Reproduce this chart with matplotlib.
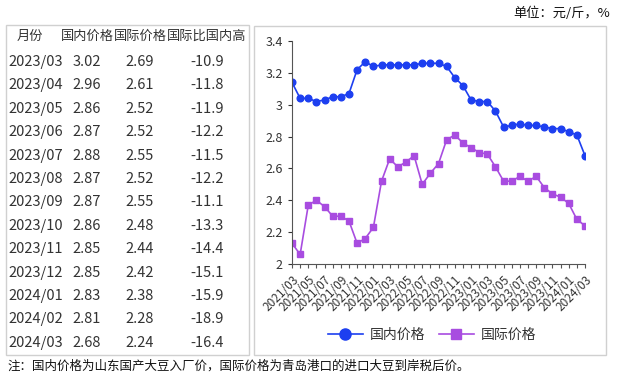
import matplotlib.pyplot as plt
from matplotlib.patches import Rectangle
from matplotlib.lines import Line2D

plt.rcParams['font.family'] = ['Noto Sans CJK SC', 'DejaVu Sans']

# chart data: 2021/03 .. 2024/03
months = ['%d/%02d' % (2021 + (m + 2) // 12, (m + 2) % 12 + 1) for m in range(37)]
domestic = [3.14, 3.04, 3.04, 3.02, 3.03, 3.05, 3.05, 3.07, 3.22, 3.27, 3.24, 3.25,
            3.25, 3.25, 3.25, 3.25, 3.26, 3.26, 3.26, 3.24, 3.17, 3.12, 3.03, 3.02,
            3.02, 2.96, 2.86, 2.87, 2.88, 2.87, 2.87, 2.86, 2.85, 2.85, 2.83, 2.81, 2.68]
intl = [2.13, 2.06, 2.37, 2.40, 2.36, 2.30, 2.30, 2.27, 2.13, 2.16, 2.23, 2.52,
        2.66, 2.61, 2.64, 2.68, 2.50, 2.57, 2.63, 2.78, 2.81, 2.76, 2.73, 2.70,
        2.69, 2.61, 2.52, 2.52, 2.55, 2.52, 2.55, 2.48, 2.44, 2.42, 2.38, 2.28, 2.24]

# table data
tbl_months = ['2023/03', '2023/04', '2023/05', '2023/06', '2023/07', '2023/08', '2023/09',
              '2023/10', '2023/11', '2023/12', '2024/01', '2024/02', '2024/03']
tbl_dom = ['3.02', '2.96', '2.86', '2.87', '2.88', '2.87', '2.87', '2.86', '2.85', '2.85', '2.83', '2.81', '2.68']
tbl_intl = ['2.69', '2.61', '2.52', '2.52', '2.55', '2.52', '2.55', '2.48', '2.44', '2.42', '2.38', '2.28', '2.24']
tbl_diff = ['-10.9', '-11.8', '-11.9', '-12.2', '-11.5', '-12.2', '-11.1', '-13.3', '-14.4', '-15.1', '-15.9', '-18.9', '-16.4']
headers = ['月份', '国内价格', '国际价格', '国际比国内高']

W, H = 617, 377
fig = plt.figure(figsize=(W / 100, H / 100), dpi=100)
fig.patch.set_facecolor('white')

def fx(x):
    return x / W

def fy(y):
    return 1 - y / H

# panel borders
fig.patches.append(Rectangle((fx(6), fy(355)), fx(243), 330 / H, transform=fig.transFigure,
                             fill=False, edgecolor='#d0d0d0', lw=1))
fig.patches.append(Rectangle((fx(254), fy(355)), fx(352), 329 / H, transform=fig.transFigure,
                             fill=False, edgecolor='#d0d0d0', lw=1))

# table text
tc = '#333333'
col_x = [8, 87, 140, 207]
fig.text(fx(30), fy(36), headers[0], ha='center', va='center', fontsize=9.5, color=tc)
for i in range(1, 4):
    fig.text(fx(col_x[i]), fy(36), headers[i], ha='center', va='center', fontsize=9.5, color=tc)
for r in range(len(tbl_months)):
    y = fy(62 + r * 23.4)
    fig.text(fx(col_x[0]), y, tbl_months[r], ha='left', va='center', fontsize=10.5, color=tc)
    fig.text(fx(col_x[1]), y, tbl_dom[r], ha='center', va='center', fontsize=10.5, color=tc)
    fig.text(fx(col_x[2]), y, tbl_intl[r], ha='center', va='center', fontsize=10.5, color=tc)
    fig.text(fx(col_x[3]), y, tbl_diff[r], ha='center', va='center', fontsize=10.5, color=tc)

fig.text(fx(610), fy(13), '单位：元/斤，%', ha='right', va='center', fontsize=9.5, color='#111111')
fig.text(fx(7), fy(366), '注：国内价格为山东国产大豆入厂价，国际价格为青岛港口的进口大豆到岸税后价。',
         ha='left', va='center', fontsize=9, color='#111111')

# line chart
ax = fig.add_axes([fx(292), fy(264), fx(585 - 292), (264 - 41) / H])
x = list(range(len(months)))
blue = '#1d3ff0'
purple = '#a84ce0'
ax.plot(x, domestic, color=blue, marker='o', markersize=4.8, lw=1.2, label='国内价格')
ax.plot(x, intl, color=purple, marker='s', markersize=4.4, lw=1.2, label='国际价格')
ax.set_xlim(0, 36)
ax.set_ylim(2, 3.4)
ax.set_yticks([2, 2.2, 2.4, 2.6, 2.8, 3, 3.2, 3.4])
ax.set_yticklabels(['2', '2.2', '2.4', '2.6', '2.8', '3', '3.2', '3.4'])
ax.set_xticks(x)
ax.set_xticklabels([m if i % 2 == 0 else '' for i, m in enumerate(months)],
                   rotation=45, ha='right', rotation_mode='anchor', fontsize=8.5, color=tc)
ax.tick_params(axis='y', labelsize=9, colors=tc, length=3)
ax.tick_params(axis='x', length=3, color='#555555')
for s in ['top', 'right']:
    ax.spines[s].set_visible(False)
for s in ['left', 'bottom']:
    ax.spines[s].set_color('#555555')
ax.patch.set_alpha(0)

handles = [Line2D([], [], color=blue, marker='o', markersize=8, lw=1.2),
           Line2D([], [], color=purple, marker='s', markersize=7, lw=1.2)]
fig.legend(handles, ['国内价格', '国际价格'], loc='center', bbox_to_anchor=(fx(432), fy(335)),
           ncol=2, frameon=False, fontsize=10, handlelength=2.5, columnspacing=1.0,
           handletextpad=0.5, labelcolor=tc)

fig.savefig('out.png', dpi=100)
